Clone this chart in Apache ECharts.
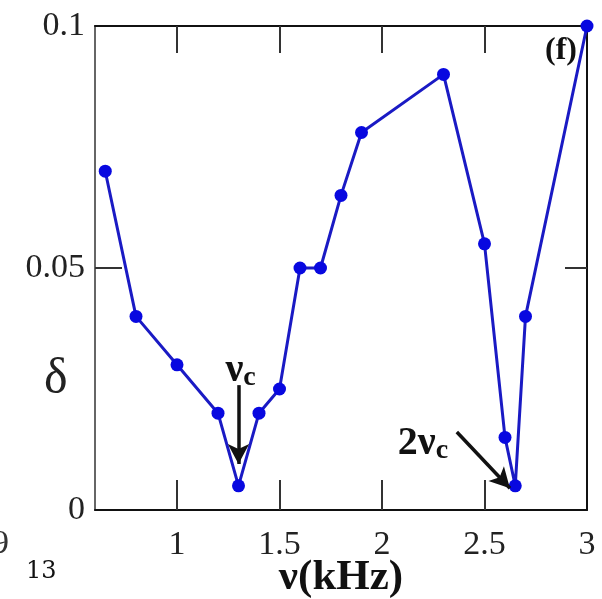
<!DOCTYPE html>
<html>
<head>
<meta charset="utf-8">
<script src="https://cdn.jsdelivr.net/npm/echarts@6/dist/echarts.min.js"></script>
<style>
  html, body { margin: 0; padding: 0; background: #fff; }
  #chart { width: 602px; height: 599px; }
</style>
</head>
<body>
<div id="chart"></div>
<script>
// Frequency (kHz) and measured delta
const freqKHz = [0.65, 0.8, 1.0, 1.2, 1.3, 1.4, 1.5, 1.6, 1.7, 1.8, 1.9, 2.3, 2.5, 2.6, 2.65, 2.7, 3.0];
const delta   = [0.07, 0.04, 0.03, 0.02, 0.005, 0.02, 0.025, 0.05, 0.05, 0.065, 0.078, 0.09, 0.055, 0.015, 0.005, 0.04, 0.1];

const xTicks = [1, 1.5, 2, 2.5, 3];
const yTicks = [0, 0.05, 0.1];

// Arrow annotations (start -> end, in data units)
const arrowNuC  = [[1.3, 0.0258], [1.3, 0.0095]];
const arrowNu2C = [[2.365, 0.0161], [2.624, 0.0045]];
const labelNuC  = [1.31, 0.0245];
const labelNu2C = [2.2, 0.0093];

const serif = '"Liberation Serif", "DejaVu Serif", serif';

const chart = echarts.init(document.getElementById('chart'), null, { renderer: 'canvas' });

const axisLine = { show: true, onZero: false, lineStyle: { color: '#111', width: 2 } };
const innerTick = (len) => ({ show: true, inside: true, length: len, lineStyle: { color: '#333', width: 2 } });

chart.setOption({
  animation: false,
  backgroundColor: '#fff',
  grid: { left: 95, right: 15, top: 26, bottom: 89, containLabel: false, outerBoundsMode: 'none' },
  xAxis: [{
    type: 'value', min: 0.6, max: 3, position: 'bottom',
    axisLine: axisLine,
    axisTick: Object.assign(innerTick(30), { customValues: xTicks.slice(0, 4) }),
    axisLabel: { customValues: xTicks, fontFamily: serif, fontSize: 34, color: '#222', margin: 18,
                 formatter: v => String(v) },
    splitLine: { show: false },
    name: 'ν(kHz)', nameLocation: 'middle', nameGap: 46, nameMoveOverlap: false,
    nameTextStyle: { fontFamily: serif, fontSize: 43, fontWeight: 'bold', color: '#111' }
  }, {
    type: 'value', min: 0.6, max: 3, position: 'top',
    axisLine: axisLine,
    axisTick: Object.assign(innerTick(27), { customValues: xTicks.slice(0, 4) }),
    axisLabel: { show: false },
    splitLine: { show: false }
  }],
  yAxis: [{
    type: 'value', min: 0, max: 0.1, interval: 0.05, position: 'left',
    axisLine: { show: true, onZero: false, lineStyle: { color: '#666', width: 2 } },
    axisTick: Object.assign(innerTick(27), { customValues: [0.05] }),
    axisLabel: { customValues: yTicks, fontFamily: serif, fontSize: 34, color: '#222', margin: 10,
                 formatter: v => (v === 0 ? '0' : String(+v.toFixed(2))) },
    splitLine: { show: false }
  }, {
    type: 'value', min: 0, max: 0.1, interval: 0.05, position: 'right',
    axisLine: axisLine,
    axisTick: Object.assign(innerTick(22), { customValues: [0.05] }),
    axisLabel: { show: false },
    splitLine: { show: false }
  }],
  series: [{
    type: 'line',
    data: freqKHz.map((f, i) => [f, delta[i]]),
    symbol: 'circle', symbolSize: 13,
    itemStyle: { color: '#0808e0' },
    lineStyle: { color: '#1a1ac4', width: 3 },
    clip: false,
    z: 3,
    markLine: {
      silent: true,
      symbol: ['none', 'arrow'], symbolSize: [16, 20],
      lineStyle: { color: '#111', width: 3.5, type: 'solid' },
      label: { show: false },
      data: [
        [{ coord: arrowNuC[0] }, { coord: arrowNuC[1] }],
        [{ coord: arrowNu2C[0] }, { coord: arrowNu2C[1] }]
      ]
    }
  }]
});

// Text annotations placed from data coordinates
const p1 = chart.convertToPixel({ gridIndex: 0 }, labelNuC);
const p2 = chart.convertToPixel({ gridIndex: 0 }, labelNu2C);
const rich = {
  n: { fontFamily: serif, fontSize: 40, fontWeight: 'bold', fill: '#111' },
  s: { fontFamily: serif, fontSize: 28, fontWeight: 'bold', fill: '#111', padding: [14, 0, 0, 0] }
};

chart.setOption({
  graphic: [
    { type: 'text', x: p1[0], y: p1[1], style: { text: '{n|ν}{s|c}', rich: rich, align: 'center', verticalAlign: 'bottom' } },
    { type: 'text', x: p2[0], y: p2[1], style: { text: '{n|2ν}{s|c}', rich: rich, align: 'center', verticalAlign: 'bottom' } },
    { type: 'text', left: 545, top: 35, style: { text: '(f)', font: 'bold 32px ' + serif, fill: '#111' } },
    { type: 'text', left: 44, top: 355, style: { text: 'δ', font: '50px ' + serif, fill: '#222' } },
    { type: 'text', left: -8, top: 527, style: { text: '9', font: '34px ' + serif, fill: '#333' } },
    { type: 'text', left: 26, top: 560, style: { text: '13', font: '24px "DejaVu Serif", serif', fill: '#111' } }
  ]
});
</script>
</body>
</html>
